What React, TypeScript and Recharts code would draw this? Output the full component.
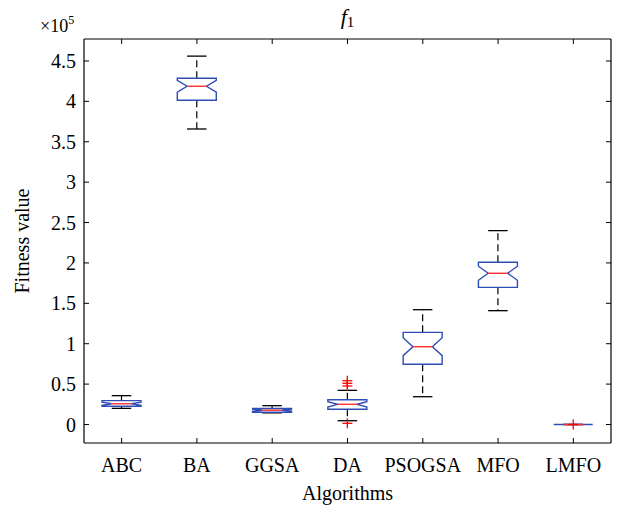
import React from 'react';
import { ComposedChart, Bar, XAxis, YAxis } from 'recharts';

// ---- data (fitness values) ----
const categories = ['ABC', 'BA', 'GGSA', 'DA', 'PSOGSA', 'MFO', 'LMFO'];
const whiskerHigh = [35700, 456000, 23300, 42300, 142100, 240000, 0];
const upperQuartile = [29500, 428600, 19800, 30700, 114100, 200800, 0];
const notchHigh = [27600, 425900, 18900, 28300, 107400, 195900, 0];
const medians = [25700, 418700, 17700, 25000, 96300, 187200, 0];
const notchLow = [23800, 411500, 16500, 21700, 85200, 178500, 0];
const lowerQuartile = [22500, 401300, 15200, 18800, 74500, 169800, 0];
const whiskerLow = [20000, 365800, 14400, 4700, 34400, 140900, 0];
const outliers: number[][] = [[], [], [], [54200, 51000, 47700, 1500], [], [], [0]];
const yTicks = [0, 50000, 100000, 150000, 200000, 250000, 300000, 350000, 400000, 450000];
const Y_MIN = -22900;
const Y_MAX = 477200;

const rows = categories.map((name, i) => ({
  name,
  wh: whiskerHigh[i],
  q3: upperQuartile[i],
  nh: notchHigh[i],
  med: medians[i],
  nl: notchLow[i],
  q1: lowerQuartile[i],
  wl: whiskerLow[i],
  out: outliers[i],
}));

const FONT = '"Liberation Serif", "DejaVu Serif", serif';
const BLUE = '#2F4DB5';
const RED = '#FF3030';
const FS = 20;

const BoxShape = (props: any) => {
  const { x, y, width, height, payload } = props;
  if (payload == null) return null;
  const py = (v: number) => y + (height * (Y_MAX - v)) / (Y_MAX - Y_MIN);
  const cx = x + width / 2;
  const L = x;
  const R = x + width;
  const inset = width * 0.25;
  const cap = width / 4;
  const pq3 = py(payload.q3);
  const pq1 = py(payload.q1);
  const pnh = py(payload.nh);
  const pnl = py(payload.nl);
  const pm = py(payload.med);
  const pwh = py(payload.wh);
  const pwl = py(payload.wl);
  const pts = [
    [L, pq3], [R, pq3], [R, pnh], [R - inset, pm], [R, pnl], [R, pq1],
    [L, pq1], [L, pnl], [L + inset, pm], [L, pnh],
  ].map((p) => p.join(',')).join(' ');
  return (
    <g>
      <line x1={cx} y1={pq3} x2={cx} y2={pwh} stroke="#000" strokeWidth={1.2} strokeDasharray="7 4" />
      <line x1={cx} y1={pq1} x2={cx} y2={pwl} stroke="#000" strokeWidth={1.2} strokeDasharray="7 4" />
      <line x1={cx - cap} y1={pwh} x2={cx + cap} y2={pwh} stroke="#000" strokeWidth={1.3} />
      <line x1={cx - cap} y1={pwl} x2={cx + cap} y2={pwl} stroke="#000" strokeWidth={1.3} />
      <polygon points={pts} fill="none" stroke={BLUE} strokeWidth={1.4} />
      <line x1={L + inset} y1={pm} x2={R - inset} y2={pm} stroke={RED} strokeWidth={1.4} />
      {payload.out.map((v: number, k: number) => {
        const oy = py(v);
        return (
          <g key={k}>
            <line x1={cx - 5} y1={oy} x2={cx + 5} y2={oy} stroke="#FF0000" strokeWidth={1.3} />
            <line x1={cx} y1={oy - 5} x2={cx} y2={oy + 5} stroke="#FF0000" strokeWidth={1.3} />
          </g>
        );
      })}
    </g>
  );
};

const BottomTick = (props: any) => {
  const { x, y, payload } = props;
  return (
    <g>
      <line x1={x} y1={y} x2={x} y2={y - 5} stroke="#000" strokeWidth={1} />
      <text x={x} y={y + 29} textAnchor="middle" fontFamily={FONT} fontSize={FS} fill="#000">
        {payload.value}
      </text>
    </g>
  );
};

const TopTick = (props: any) => {
  const { x, y } = props;
  return <line x1={x} y1={y} x2={x} y2={y + 5} stroke="#000" strokeWidth={1} />;
};

const LeftTick = (props: any) => {
  const { x, y, payload } = props;
  const v = payload.value / 100000;
  return (
    <g>
      <line x1={x} y1={y} x2={x + 5} y2={y} stroke="#000" strokeWidth={1} />
      <text x={x - 8} y={y + 7} textAnchor="end" fontFamily={FONT} fontSize={FS} fill="#000">
        {String(v)}
      </text>
    </g>
  );
};

const RightTick = (props: any) => {
  const { x, y } = props;
  return <line x1={x} y1={y} x2={x - 5} y2={y} stroke="#000" strokeWidth={1} />;
};

const span = () => [Y_MIN, Y_MAX];

export default function App() {
  return (
    <div style={{ position: 'absolute', left: 0, top: 0, width: 617, height: 511, background: '#fff' }}>
      <ComposedChart width={617} height={511} data={rows} margin={{ top: 0, right: 0, bottom: 0, left: 0 }}>
        <XAxis
          xAxisId="b"
          dataKey="name"
          orientation="bottom"
          height={68}
          interval={0}
          tickLine={false}
          tickSize={0}
          tickMargin={0}
          tick={<BottomTick />}
          axisLine={{ stroke: '#000', strokeWidth: 1.2 }}
          label={{
            content: (p: any) => {
              const vb = p.viewBox || { x: 84, y: 443, width: 527, height: 68 };
              return (
                <text x={vb.x + vb.width / 2} y={vb.y + 57} textAnchor="middle" fontFamily={FONT} fontSize={FS} fill="#000">
                  Algorithms
                </text>
              );
            },
          }}
        />
        <XAxis
          xAxisId="t"
          dataKey="name"
          orientation="top"
          height={39}
          interval={0}
          tickLine={false}
          tickSize={0}
          tickMargin={0}
          tick={<TopTick />}
          axisLine={{ stroke: '#000', strokeWidth: 1.2 }}
          label={{
            content: (p: any) => {
              const vb = p.viewBox || { x: 84, y: 0, width: 527, height: 39 };
              return (
                <g>
                  <text x={vb.x + vb.width / 2} y={24} textAnchor="middle" fontFamily={FONT} fontSize={22} fill="#000">
                    <tspan fontStyle="italic">f</tspan>
                    <tspan fontSize={15} dy={3}>1</tspan>
                  </text>
                  <text x={40} y={32} fontFamily={FONT} fontSize={18} fill="#000">
                    ×10
                    <tspan fontSize={12} dy={-8}>5</tspan>
                  </text>
                </g>
              );
            },
          }}
        />
        <YAxis
          yAxisId="l"
          type="number"
          orientation="left"
          domain={[Y_MIN, Y_MAX]}
          allowDataOverflow
          ticks={yTicks}
          interval={0}
          width={84}
          tickLine={false}
          tickSize={0}
          tickMargin={0}
          tick={<LeftTick />}
          axisLine={{ stroke: '#000', strokeWidth: 1.2 }}
          label={{
            content: (p: any) => {
              const vb = p.viewBox || { x: 0, y: 39, width: 84, height: 404 };
              const cy = vb.y + vb.height / 2;
              return (
                <text x={29} y={cy} transform={`rotate(-90, 29, ${cy})`} textAnchor="middle" fontFamily={FONT} fontSize={FS} fill="#000">
                  Fitness value
                </text>
              );
            },
          }}
        />
        <YAxis
          yAxisId="r"
          type="number"
          orientation="right"
          domain={[Y_MIN, Y_MAX]}
          allowDataOverflow
          ticks={yTicks}
          interval={0}
          width={6}
          tickLine={false}
          tickSize={0}
          tickMargin={0}
          tick={<RightTick />}
          axisLine={{ stroke: '#000', strokeWidth: 1.2 }}
        />
        <Bar
          xAxisId="b"
          yAxisId="l"
          dataKey={span}
          barSize={39}
          shape={<BoxShape />}
          isAnimationActive={false}
        />
      </ComposedChart>
    </div>
  );
}
